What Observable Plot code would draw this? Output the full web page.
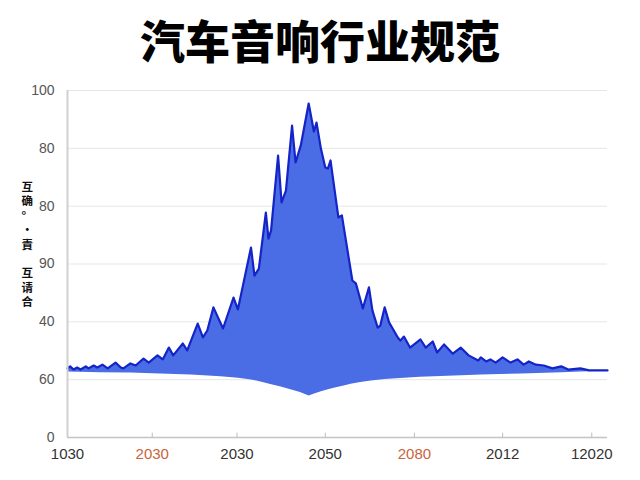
<!DOCTYPE html>
<html><head><meta charset="utf-8">
<script src="https://cdn.jsdelivr.net/npm/d3@7"></script>
<script src="https://cdn.jsdelivr.net/npm/@observablehq/plot@0.6"></script>
<style>
body{margin:0;background:#fff;}
#title{width:640px;height:80px;line-height:80px;text-align:center;font-family:"Noto Sans CJK SC","Noto Sans",sans-serif;font-weight:900;font-size:45px;color:#000;}
</style></head><body>
<div id="title">汽车音响行业规范</div>
<div id="chart"></div>
<script>
// Top (upper) edge of the area, dark blue line
const topX = [0,0.3,0.7,1.1,1.5,2.1,2.4,3.0,3.4,4.0,4.6,5.5,6.1,6.4,7.2,7.8,8.7,9.3,10.3,10.9,11.6,12.1,13.2,13.7,14.9,15.5,16.0,16.7,17.8,19.0,19.5,21.0,21.4,21.9,22.7,23.0,23.3,24.1,24.5,25.0,25.7,26.1,26.7,27.6,28.2,28.5,29.0,29.5,29.8,30.1,31.0,31.4,32.6,33.0,33.8,34.5,34.9,35.5,35.8,36.3,36.8,37.8,38.1,38.5,39.2,40.4,41.0,41.8,42.3,43.1,44.1,45.0,45.9,47.0,47.3,47.9,48.4,49.0,49.8,50.7,51.5,52.2,52.8,53.6,54.5,55.5,56.5,57.3,58.7,59.7,61.8];
const topY = [23.9,24.6,23.5,24.2,23.5,24.6,23.9,24.9,24.2,25.2,23.9,25.9,24.2,23.9,25.6,24.9,27.3,25.9,28.4,27.0,31.1,28.4,32.5,30.1,39.4,34.6,37.0,45.0,37.7,48.4,44.3,65.7,56.0,58.4,77.8,68.8,71.6,97.5,81.3,85.4,107.9,95.1,101.0,115.5,105.8,108.9,99.9,93.4,93.0,95.8,76.1,76.8,54.3,53.3,44.6,51.9,43.9,38.0,38.7,45.0,39.8,34.6,33.5,34.9,31.1,33.9,31.1,33.2,29.4,32.2,29.0,31.1,28.4,26.6,27.7,26.3,27.0,25.9,27.7,25.9,27.0,25.2,26.3,25.2,24.9,23.9,24.6,23.5,23.9,23.2,23.2];
// Lower edge of the area
const bottomX = [0,3.8,7.2,10.6,14.1,17.5,19.5,21.0,22.2,23.2,24.4,25.5,26.6,27.6,28.3,29.0,29.9,30.7,31.6,32.4,33.5,34.7,36.3,38.1,40.3,42.7,47.3,51.9,56.5,61.8];
const bottomY = [22.8,22.6,22.5,22.1,21.8,21.2,20.7,20.1,19.3,18.5,17.6,16.7,15.7,14.5,15.3,16.0,16.8,17.4,18.0,18.6,19.2,19.7,20.2,20.6,21.0,21.3,21.8,22.1,22.6,23.2];
// Axis ticks and labels
const xTicks = [0,9.7,19.4,29.5,39.7,49.8,60];
const xLabels = ["1030","2030","2030","2050","2080","2012","12020"];
const yTicks = [0,20,40,60,80,100,120];
const yLabels = ["0","60","40","90","80","80","100"];
const yTitle = ["互","确","°","·","責","","互","请","合"];

const topData = topX.map((x,i)=>({x, y: topY[i]}));
const bottomData = bottomX.map((x,i)=>({x, y: bottomY[i]}));
const polygon = topData.concat(bottomData.slice().reverse());
const orange = new Set([1,4]);

const chart = Plot.plot({
  width: 640, height: 400,
  marginTop: 10, marginBottom: 43, marginLeft: 67, marginRight: 33,
  x: {domain: [0, 61.8], axis: null},
  y: {domain: [0, 120], axis: null},
  style: {fontFamily: "'Liberation Sans', Arial, sans-serif", background: "#fff"},
  marks: [
    Plot.ruleY(yTicks.filter(d => d > 0), {stroke: "#e6e6e6", strokeWidth: 1}),
    Plot.line(polygon, {x: "x", y: "y", fill: "#4a6de6", stroke: "none"}),
    Plot.line(topData, {x: "x", y: "y", stroke: "#1424c8", strokeWidth: 2.2, strokeLinejoin: "round"}),
    Plot.ruleX([0], {y1: 0, y2: 120, stroke: "#d0d0d0", strokeWidth: 2}),
    Plot.ruleY([0], {stroke: "#c4c4c4", strokeWidth: 1.5}),
    Plot.ruleX(xTicks.slice(1), {x: d => d, y1: 0, y2: 1.5, stroke: "#bdbdbd"}),
    Plot.text(xTicks, {x: d => d, y: 0, dy: 17, text: (d, i) => xLabels[i], fontSize: 15,
      filter: (d, i) => !orange.has(i), fill: "#333"}),
    Plot.text(xTicks, {x: d => d, y: 0, dy: 17, text: (d, i) => xLabels[i], fontSize: 15,
      filter: (d, i) => orange.has(i), fill: "#c9643c"}),
    Plot.text(yTicks, {x: 0, y: d => d, dx: -13, text: (d, i) => yLabels[i], textAnchor: "end",
      fontSize: 14, fill: "#555"}),
    Plot.text([yTitle.join("\n")], {frameAnchor: "left", dx: -46, dy: -20, text: d => d,
      fontSize: 11.5, fontWeight: "bold", lineHeight: 1.25, fill: "#111",
      fontFamily: "'Noto Sans CJK SC', sans-serif"})
  ]
});
document.getElementById("chart").appendChild(chart);
</script></body></html>
